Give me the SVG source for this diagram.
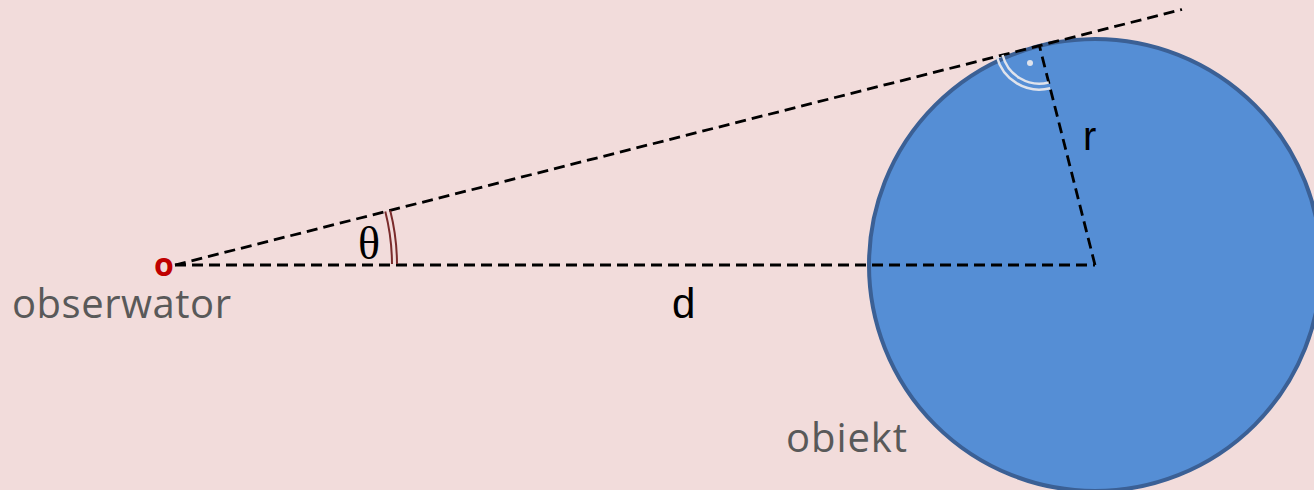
<svg xmlns="http://www.w3.org/2000/svg" width="1314" height="490" viewBox="0 0 1314 490">
<style>
.dash{fill:none;stroke:#000;stroke-width:2.8;stroke-dasharray:11 6}
.lbl{font-family:"Open Sans","Liberation Sans",sans-serif;fill:#595959;font-size:40px}
.ang{fill:none;stroke:#7a2b2b;stroke-width:2}
.ra{fill:none;stroke:#dfe3ec;stroke-width:2.5}
</style>
<rect width="1314" height="490" fill="#f2dcdb"/>
<g id="obiekt">
<circle cx="1095" cy="265" r="226" fill="#558ed5" stroke="#3b6095" stroke-width="4"/>
<text class="lbl" x="786" y="452" textLength="121" lengthAdjust="spacing">obiekt</text>
</g>
<g id="connectors">
<line class="dash" x1="175" y1="265" x2="1095" y2="265"/>
<line class="dash" x1="175" y1="265" x2="1182" y2="9.5"/>
<line class="dash" x1="1095" y1="265" x2="1039.4" y2="45.7"/>
<path class="ang" d="M392 264 A217 217 0 0 0 385.3 211.6"/>
<path class="ang" d="M397 264 A222 222 0 0 0 390.2 210.4"/>
<path class="ra" d="M1002.6 55.05 A38 38 0 0 0 1048.7 82.5"/>
<path class="ra" d="M996.8 56.5 A44 44 0 0 0 1050.2 88.3"/>
<circle cx="1030" cy="63" r="3" fill="#dfe3ec"/>
</g>
<g id="obserwator">
<text x="154" y="276" font-family="'Open Sans','Liberation Sans',sans-serif" font-weight="bold" font-size="32" fill="#c00000">o</text>
<text class="lbl" x="12" y="318" textLength="219" lengthAdjust="spacing">obserwator</text>
</g>
<g id="labels">
<text x="358" y="259" font-family="'Liberation Serif',serif" font-size="46" fill="#000">θ</text>
<text x="672" y="318" font-family="'Liberation Sans',sans-serif" font-size="42" fill="#000">d</text>
<text x="1083" y="150" font-family="'Liberation Sans',sans-serif" font-size="40" fill="#000">r</text>
</g>
</svg>
